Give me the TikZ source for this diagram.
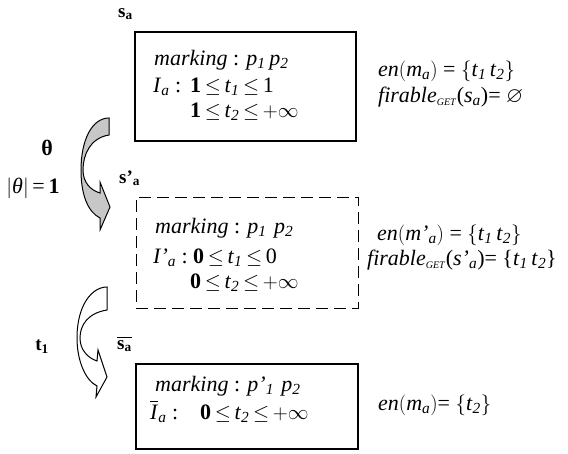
\documentclass[tikz,border=0pt]{standalone}
\usepackage{fontspec}
\usepackage{amssymb}
\setmainfont{Liberation Serif}
\definecolor{arrowgray}{gray}{0.78}
\tikzset{
  statebox/.style={draw,line width=1.2pt,inner sep=0pt},
  txt/.style={anchor=base west,inner sep=0pt,font=\fontsize{22}{24}\selectfont},
  lbl/.style={anchor=base west,inner sep=0pt,font=\bfseries\fontsize{19}{20}\selectfont},
}
\newcommand{\vs}[2]{\textit{#1}\textsubscript{\textit{#2}}}
\newcommand{\getsub}{\textsubscript{\textit{\fontsize{10}{10}\selectfont GET}}}
\begin{document}
\begin{tikzpicture}[x=1pt,y=-1pt]
\useasboundingbox (0,0) rectangle (568,453);

% the three states
\node[statebox,minimum width=221pt,minimum height=109pt] (box1) at (245.5,86.5) {};
\node[statebox,line width=1pt,dash pattern=on 12pt off 6pt,minimum width=222pt,minimum height=111pt] (box2) at (247,252.5) {};
\node[statebox,minimum width=222pt,minimum height=85pt] (box3) at (247,406.5) {};

\node[lbl] (sa) at (118,17) {s\textsubscript{a}};
\node[lbl] (sa2) at (119,183) {s'\textsubscript{a}};
\node[lbl] (sa3) at (117,349) {$\overline{\mbox{s\textsubscript{a}}}$};

% state s_a
\node[txt] (mk1) at (154,65) {\textit{marking} : \vs{p}{1}\,\vs{p}{2}};
\node[txt] (ia1) at (153,92) {\vs{I}{a} :};
\node[txt] (c11) at (190,92) {\textbf{1}\,$\leq$\,\vs{t}{1}\,$\leq$\,1};
\node[txt] (c12) at (190,117) {\textbf{1}\,$\leq$\,\vs{t}{2}\,$\leq$\,$+\infty$};
\node[txt] (en1) at (378,76) {\textit{en}$\bigl($\vs{m}{a}$\bigr)$ = $\bigl\{$\vs{t}{1}\,\vs{t}{2}$\bigr\}$};
\node[txt] (fire1) at (378,102) {\textit{firable}\getsub(\vs{s}{a})= $\varnothing$};

% state s'_a
\node[txt] (mk2) at (155,233) {\textit{marking} : \vs{p}{1}\,\,\vs{p}{2}};
\node[txt] (ia2) at (153,263) {\textit{I'}\textsubscript{\textit{a}} :};
\node[txt] (c21) at (193,263) {\textbf{0}\,$\leq$\,\vs{t}{1}\,$\leq$\,0};
\node[txt] (c22) at (190,288) {\textbf{0}\,$\leq$\,\vs{t}{2}\,$\leq$\,$+\infty$};
\node[txt] (en2) at (377,240) {\textit{en}$\bigl($\textit{m'}\textsubscript{\textit{a}}$\bigr)$ = $\bigl\{$\vs{t}{1}\,\vs{t}{2}$\bigr\}$};
\node[txt] (fire2) at (367,265) {\textit{firable}\getsub(\textit{s'}\textsubscript{\textit{a}})= \{\vs{t}{1}\,\vs{t}{2}\}};

% state s_a bar
\node[txt] (mk3) at (155,391) {\textit{marking} : \textit{p'}\textsubscript{\textit{1}}\,\,\vs{p}{2}};
\node[txt] (ia3) at (150,419) {$\overline{\mbox{\textit{I}}}$\textsubscript{\textit{a}} :};
\node[txt] (c31) at (200,419) {\textbf{0}\,$\leq$\,\vs{t}{2}\,$\leq$\,$+\infty$};
\node[txt] (en3) at (378,410) {\textit{en}$\bigl($\vs{m}{a}$\bigr)$= $\bigl\{$\vs{t}{2}$\bigr\}$};

% transitions
\draw[line width=1pt,fill=arrowgray] (109,118) -- (109,135) .. controls (90,138) and (83,155) .. (83,170)
  .. controls (83,182) and (90,190) .. (100,193) -- (100,182) -- (110,207) -- (100,230) -- (100,218)
  .. controls (88,212) and (81,195) .. (81,170) .. controls (81,140) and (92,118) .. (109,118) -- cycle;
\draw[line width=1pt,fill=white] (107,287) -- (107,310) .. controls (88,313) and (80,325) .. (80,338)
  .. controls (80,350) and (88,358) .. (97,361) -- (98,350) -- (107,377) -- (96,397) -- (97,386)
  .. controls (85,380) and (77,360) .. (77,338) .. controls (77,305) and (92,287) .. (107,287) -- cycle;

\node[inner sep=0pt,font=\bfseries\fontsize{22}{22}\selectfont] (theta) at (47,148) {θ};
\node[txt,anchor=center] (abs) at (33,188) {$\bigl|$\textit{θ}$\bigr|$\,=\,\textbf{1}};
\node[inner sep=0pt,font=\bfseries\fontsize{19}{19}\selectfont] (t1) at (42,347) {t\textsubscript{1}};
\end{tikzpicture}
\end{document}
